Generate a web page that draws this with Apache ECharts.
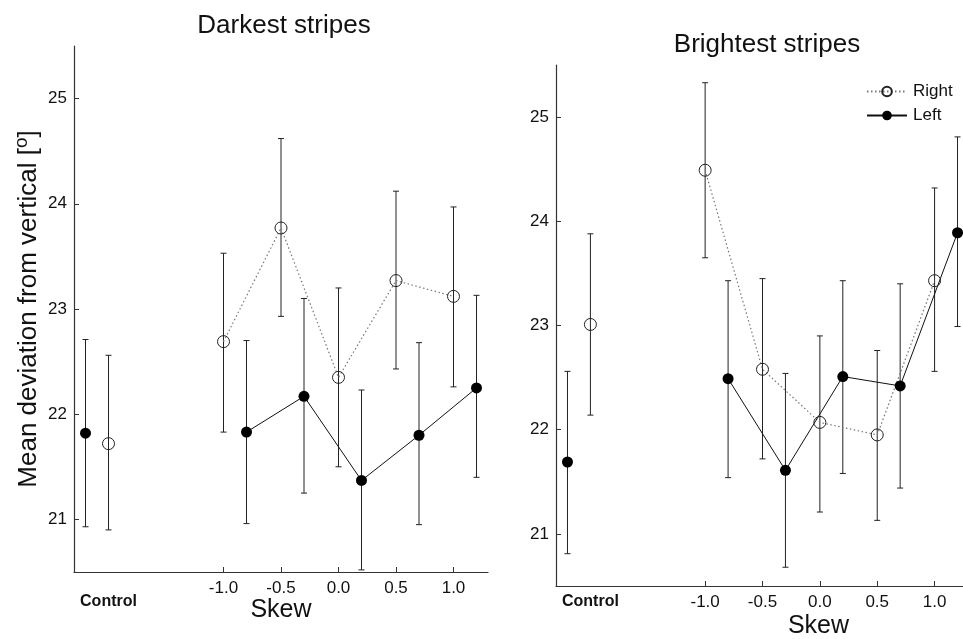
<!DOCTYPE html>
<html>
<head>
<meta charset="utf-8">
<script src="https://cdn.jsdelivr.net/npm/echarts@6/dist/echarts.min.js"></script>
<style>
  html, body { margin: 0; padding: 0; background: #fff; }
  #chart { width: 963px; height: 639px; }
</style>
</head>
<body>
<div id="chart"></div>
<script>
  // x positions (skew), right eye shifted, left eye offset +0.2
  const skewRight = [-1.0, -0.5, 0.0, 0.5, 1.0];
  const skewLeft = [-0.8, -0.3, 0.2, 0.7, 1.2];
  const controlRightX = -2.0;
  const controlLeftX = -2.2;
  const skewTicks = [-1.0, -0.5, 0.0, 0.5, 1.0];
  const yTicks = [21, 22, 23, 24, 25];

  // Darkest stripes
  const darkRightMean = [22.69, 23.77, 22.35, 23.27, 23.12];
  const darkRightLow  = [21.83, 22.93, 21.50, 22.43, 22.26];
  const darkRightHigh = [23.53, 24.62, 23.20, 24.12, 23.97];
  const darkLeftMean  = [21.83, 22.17, 21.37, 21.80, 22.25];
  const darkLeftLow   = [20.96, 21.25, 20.52, 20.95, 21.40];
  const darkLeftHigh  = [22.70, 23.10, 22.23, 22.68, 23.13];
  const darkControlRight = [21.72, 20.90, 22.56]; // mean, low, high
  const darkControlLeft  = [21.82, 20.93, 22.71];

  // Brightest stripes
  const brightRightMean = [24.49, 22.58, 22.07, 21.95, 23.43];
  const brightRightLow  = [23.65, 21.72, 21.21, 21.13, 22.56];
  const brightRightHigh = [25.33, 23.45, 22.90, 22.76, 24.32];
  const brightLeftMean  = [22.49, 21.61, 22.51, 22.42, 23.89];
  const brightLeftLow   = [21.54, 20.68, 21.58, 21.44, 22.99];
  const brightLeftHigh  = [23.43, 22.54, 23.43, 23.40, 24.81];
  const brightControlRight = [23.01, 22.14, 23.88];
  const brightControlLeft  = [21.69, 20.81, 22.56];

  const FONT = 'Liberation Sans, Arial, sans-serif';

  function pairs(xs, ys) {
    return xs.map(function (x, i) { return [x, ys[i]]; });
  }
  function bars(xs, lo, hi) {
    return xs.map(function (x, i) { return [x, lo[i], hi[i]]; });
  }

  function renderErrorBar(params, api) {
    const top = api.coord([api.value(0), api.value(2)]);
    const bot = api.coord([api.value(0), api.value(1)]);
    const w = 3;
    const style = { stroke: '#222', lineWidth: 1 };
    return {
      type: 'group',
      children: [
        { type: 'line', shape: { x1: top[0], y1: top[1], x2: bot[0], y2: bot[1] }, style: style },
        { type: 'line', shape: { x1: top[0] - w, y1: top[1], x2: top[0] + w, y2: top[1] }, style: style },
        { type: 'line', shape: { x1: bot[0] - w, y1: bot[1], x2: bot[0] + w, y2: bot[1] }, style: style }
      ]
    };
  }

  function xAxisOf(idx, namePad, ctrlPad) {
    return {
      type: 'value', gridIndex: idx, min: -2.3, max: 1.3,
      splitLine: { show: false },
      axisLine: { show: true, onZero: false, lineStyle: { color: '#333', width: 1.2 } },
      axisTick: { show: true, inside: true, length: 5, customValues: skewTicks, lineStyle: { color: '#333' } },
      axisLabel: {
        customValues: [controlRightX].concat(skewTicks),
        color: '#111', fontFamily: FONT, fontSize: 17, margin: 8,
        formatter: function (v) {
          if (v < -1.5) return '{c|Control}';
          return v.toFixed(1);
        },
        rich: { c: { fontSize: 16, fontWeight: 'bold', color: '#111', fontFamily: FONT, padding: [ctrlPad, 0, 0, 0] } }
      },
      name: 'Skew', nameLocation: 'middle', nameGap: idx === 0 ? 26 : 28,
      nameMoveOverlap: false,
      nameTextStyle: { fontSize: 25, color: '#111', fontFamily: FONT, padding: namePad }
    };
  }

  function yAxisOf(idx, withName) {
    const ax = {
      type: 'value', gridIndex: idx, min: 20.5, max: 25.5,
      splitLine: { show: false },
      axisLine: { show: true, onZero: false, lineStyle: { color: '#333', width: 1.2 } },
      axisTick: { show: true, inside: true, length: 5, customValues: yTicks, lineStyle: { color: '#333' } },
      axisLabel: { customValues: yTicks, color: '#111', fontFamily: FONT, fontSize: 17, margin: 7 }
    };
    if (withName) {
      ax.name = 'Mean deviation from vertical [{s|o}]';
      ax.nameLocation = 'middle';
      ax.nameGap = 29;
      ax.nameMoveOverlap = false;
      ax.nameTextStyle = {
        fontSize: 26, color: '#111', fontFamily: FONT,
        rich: { s: { fontSize: 19, color: '#111', fontFamily: FONT, padding: [0, 0, 14, 0] } }
      };
    }
    return ax;
  }

  function panelSeries(idx, rMean, rLo, rHi, lMean, lLo, lHi, cR, cL) {
    return [
      {
        type: 'custom', xAxisIndex: idx, yAxisIndex: idx, renderItem: renderErrorBar,
        encode: { x: 0, y: [1, 2] }, silent: true, z: 1,
        data: bars(skewRight, rLo, rHi).concat(bars(skewLeft, lLo, lHi))
          .concat([[controlRightX, cR[1], cR[2]], [controlLeftX, cL[1], cL[2]]])
      },
      {
        name: 'Right', type: 'line', xAxisIndex: idx, yAxisIndex: idx, z: 3,
        data: pairs(skewRight, rMean),
        symbol: 'circle', symbolSize: 12,
        lineStyle: { color: '#777', width: 1.2, type: [1.5, 2.5] },
        itemStyle: { color: 'rgba(255,255,255,0)', borderColor: '#222', borderWidth: 1 }
      },
      {
        name: 'Left', type: 'line', xAxisIndex: idx, yAxisIndex: idx, z: 3,
        data: pairs(skewLeft, lMean),
        symbol: 'circle', symbolSize: 11,
        lineStyle: { color: '#111', width: 1 },
        itemStyle: { color: '#000', borderColor: '#000', borderWidth: 0 }
      },
      {
        name: 'Right control', type: 'scatter', xAxisIndex: idx, yAxisIndex: idx, z: 3,
        data: [[controlRightX, cR[0]]], symbol: 'circle', symbolSize: 12,
        itemStyle: { color: 'rgba(255,255,255,0)', borderColor: '#222', borderWidth: 1, opacity: 1 }
      },
      {
        name: 'Left control', type: 'scatter', xAxisIndex: idx, yAxisIndex: idx, z: 3,
        data: [[controlLeftX, cL[0]]], symbol: 'circle', symbolSize: 11,
        itemStyle: { color: '#000', opacity: 1 }
      }
    ];
  }

  const chart = echarts.init(document.getElementById('chart'), null, { renderer: 'canvas' });

  const option = {
    backgroundColor: '#fff',
    animation: false,
    textStyle: { fontFamily: FONT },
    title: [
      { text: 'Darkest stripes', left: 279, top: 8, textAlign: 'center',
        textStyle: { fontSize: 26, fontWeight: 'normal', color: '#111', fontFamily: FONT } },
      { text: 'Brightest stripes', left: 762, top: 27, textAlign: 'center',
        textStyle: { fontSize: 26, fontWeight: 'normal', color: '#111', fontFamily: FONT } }
    ],
    legend: {
      data: ['Right', 'Left'], orient: 'vertical', left: 866, top: 83,
      itemWidth: 40, itemHeight: 12, itemGap: 7, padding: 0,
      textStyle: { fontSize: 17, color: '#111', fontFamily: FONT, padding: [0, 0, 0, 1] }
    },
    grid: [
      { left: 74, right: 475, top: 46, bottom: 67, outerBoundsMode: 'none' },
      { left: 556, right: -6, top: 65, bottom: 53, outerBoundsMode: 'none' }
    ],
    xAxis: [xAxisOf(0, 0, 14), xAxisOf(1, [0, 0, 0, 112], 0)],
    yAxis: [yAxisOf(0, true), yAxisOf(1, false)],
    series: panelSeries(0, darkRightMean, darkRightLow, darkRightHigh,
                        darkLeftMean, darkLeftLow, darkLeftHigh, darkControlRight, darkControlLeft)
      .concat(panelSeries(1, brightRightMean, brightRightLow, brightRightHigh,
                          brightLeftMean, brightLeftLow, brightLeftHigh, brightControlRight, brightControlLeft))
  };

  chart.setOption(option);
  window.onresize = function () { chart.resize(); };
</script>
</body>
</html>
